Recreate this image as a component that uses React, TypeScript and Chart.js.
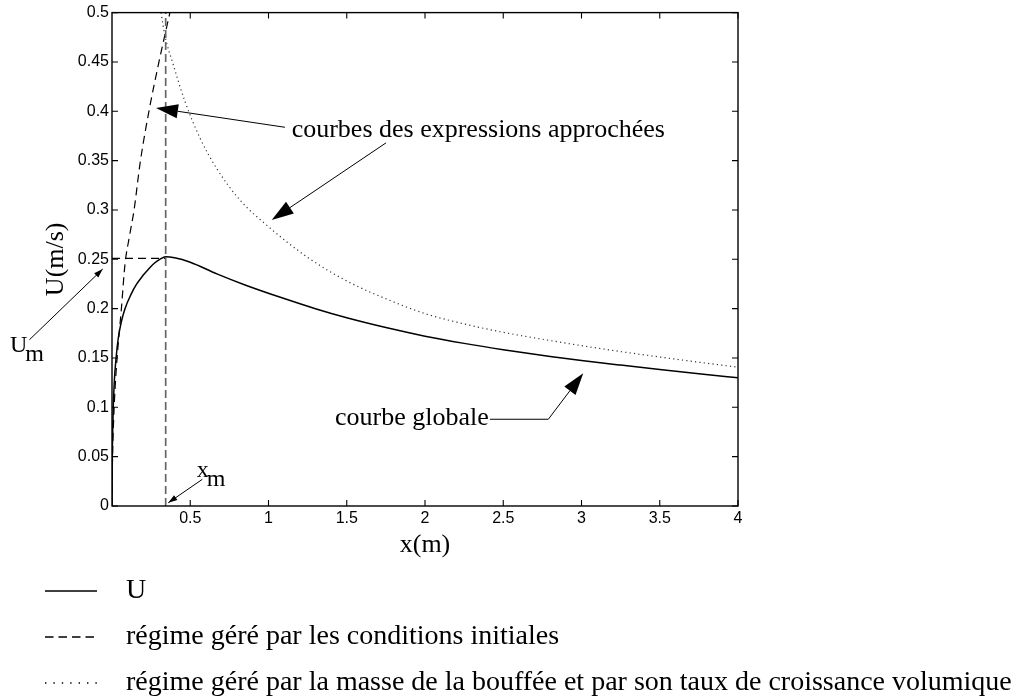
import React, { useEffect, useRef } from "react";
import { Chart, registerables } from "chart.js";

Chart.register(...registerables);

// ---- data ----
// global curve U(x)
const U_X = [0, 0.002, 0.005, 0.008, 0.015, 0.026, 0.04, 0.06, 0.083, 0.12, 0.158, 0.2, 0.23, 0.27, 0.31, 0.343, 0.4, 0.5, 0.67, 0.85, 1.1, 1.3, 1.5, 1.75, 2.0, 2.25, 2.5, 2.8, 3.0, 3.25, 3.5, 3.75, 4.0];
const U_Y = [0, 0.05, 0.08, 0.1, 0.127, 0.15, 0.17, 0.187, 0.2, 0.214, 0.225, 0.234, 0.2395, 0.246, 0.2505, 0.2525, 0.2515, 0.247, 0.2352, 0.224, 0.2102, 0.1999, 0.1907, 0.1808, 0.1721, 0.1648, 0.1584, 0.1516, 0.1475, 0.1428, 0.1383, 0.134, 0.13];

// regime driven by initial conditions (dashed)
const INIT_X = [0, 0.003, 0.01, 0.02, 0.035, 0.06, 0.083, 0.11, 0.141, 0.18, 0.236, 0.3, 0.37];
const INIT_Y = [0, 0.045, 0.085, 0.12, 0.155, 0.2, 0.245, 0.272, 0.3, 0.348, 0.4, 0.45, 0.5];

// regime driven by puff mass and volumetric growth (dotted)
const MASS_X = [0.313, 0.339, 0.392, 0.466, 0.562, 0.669, 0.818, 1.0, 1.25, 1.5, 1.75, 2.0, 2.25, 2.5, 2.75, 3.0, 3.25, 3.5, 3.75, 4.0];
const MASS_Y = [0.5, 0.476, 0.447, 0.41, 0.373, 0.342, 0.31, 0.283, 0.252, 0.228, 0.21, 0.195, 0.1845, 0.176, 0.169, 0.1625, 0.1565, 0.151, 0.1457, 0.1407];

// maximum location
const X_M = 0.343;
const U_M = 0.251;

// axis ticks
const X_TICKS = [0.5, 1, 1.5, 2, 2.5, 3, 3.5, 4];
const Y_TICKS = [0, 0.05, 0.1, 0.15, 0.2, 0.25, 0.3, 0.35, 0.4, 0.45, 0.5];

const LEGEND_LABELS = [
  "U",
  "régime géré par les conditions initiales",
  "régime géré par la masse de la bouffée et par son taux de croissance volumique",
];

// annotations (data coordinates)
const NOTE_TEXTS = [
  { text: "courbes des expressions approchées", x: 1.148, y: 0.3737 },
  { text: "courbe globale", x: 1.425, y: 0.0818 },
];
const NOTE_ARROWS = [
  { pts: [[1.105, 0.3838], [0.281, 0.4033]], big: true },
  { pts: [[1.751, 0.368], [1.0204, 0.2899]], big: true },
  { pts: [[2.415, 0.0879], [2.788, 0.0879], [3.011, 0.1346]], big: true },
  { pts: [[-0.528, 0.1684], [-0.0594, 0.2401]], big: false },
  { pts: [[0.577, 0.027], [0.3597, 0.0033]], big: false },
];
const NOTE_SUBS = [
  { main: "U", sub: "m", x: -0.652, y: 0.1559 },
  { main: "x", sub: "m", x: 0.541, y: 0.0296 },
];

const SERIF = "'Liberation Serif', 'Times New Roman', serif";
const SANS = "'Liberation Sans', Arial, sans-serif";

const decorPlugin = {
  id: "decor",
  afterDraw(chart: any) {
    const { ctx, chartArea: a, scales } = chart;
    const xs = scales.x;
    const ys = scales.y;
    const px = (v: number) => xs.getPixelForValue(v);
    const py = (v: number) => ys.getPixelForValue(v);
    ctx.save();

    // axes box
    ctx.strokeStyle = "#000";
    ctx.lineWidth = 1.4;
    ctx.setLineDash([]);
    ctx.strokeRect(a.left, a.top, a.right - a.left, a.bottom - a.top);

    // inward ticks on all sides
    ctx.lineWidth = 1.1;
    ctx.beginPath();
    for (const t of X_TICKS) {
      const x = px(t);
      ctx.moveTo(x, a.bottom);
      ctx.lineTo(x, a.bottom - 6);
      ctx.moveTo(x, a.top);
      ctx.lineTo(x, a.top + 6);
    }
    for (const t of Y_TICKS) {
      const y = py(t);
      ctx.moveTo(a.left, y);
      ctx.lineTo(a.left + 6, y);
      ctx.moveTo(a.right, y);
      ctx.lineTo(a.right - 6, y);
    }
    ctx.stroke();

    // arrows
    ctx.fillStyle = "#000";
    ctx.strokeStyle = "#000";
    ctx.lineWidth = 1;
    for (const arr of NOTE_ARROWS) {
      const p = arr.pts.map(([x, y]) => [px(x), py(y)]);
      const n = p.length;
      const [tx, ty] = p[n - 1];
      const [sx, sy] = p[n - 2];
      const ang = Math.atan2(ty - sy, tx - sx);
      const L = arr.big ? 22 : 9;
      const W = arr.big ? 7 : 3;
      const bx = tx - Math.cos(ang) * L;
      const by = ty - Math.sin(ang) * L;
      ctx.beginPath();
      ctx.moveTo(p[0][0], p[0][1]);
      for (let i = 1; i < n - 1; i++) ctx.lineTo(p[i][0], p[i][1]);
      ctx.lineTo(arr.big ? bx : tx, arr.big ? by : ty);
      ctx.stroke();
      const nx = -Math.sin(ang) * W;
      const ny = Math.cos(ang) * W;
      ctx.beginPath();
      ctx.moveTo(tx, ty);
      ctx.lineTo(bx + nx, by + ny);
      ctx.lineTo(bx - nx, by - ny);
      ctx.closePath();
      ctx.fill();
    }

    // annotation texts
    ctx.textBaseline = "alphabetic";
    ctx.textAlign = "left";
    ctx.font = `26px ${SERIF}`;
    for (const t of NOTE_TEXTS) ctx.fillText(t.text, px(t.x), py(t.y));
    ctx.font = `24px ${SERIF}`;
    for (const t of NOTE_SUBS) {
      const x = px(t.x);
      const y = py(t.y);
      ctx.fillText(t.main, x, y);
      const w = ctx.measureText(t.main).width;
      ctx.fillText(t.sub, x + w - 2, y + 9);
    }

    // legend below the axes
    const lx0 = 45;
    const lx1 = 97;
    const tx = 126;
    const rowY = [a.bottom + 85, a.bottom + 131, a.bottom + 177];
    const styles = [
      { dash: [] as number[], width: 1.6, color: "#000" },
      { dash: [8.5, 5], width: 1.4, color: "#000" },
      { dash: [1.4, 7], width: 1.5, color: "#000" },
    ];
    ctx.font = `28px ${SERIF}`;
    ctx.textBaseline = "middle";
    LEGEND_LABELS.forEach((lab, i) => {
      const s = styles[i];
      ctx.strokeStyle = s.color;
      ctx.lineWidth = s.width;
      ctx.setLineDash(s.dash);
      ctx.beginPath();
      ctx.moveTo(lx0, rowY[i]);
      ctx.lineTo(lx1, rowY[i]);
      ctx.stroke();
      ctx.setLineDash([]);
      ctx.fillStyle = "#000";
      ctx.fillText(lab, tx, rowY[i]);
    });
    ctx.restore();
  },
};

const pts = (xs: number[], ys: number[]) => xs.map((x, i) => ({ x, y: ys[i] }));

export default function App() {
  const ref = useRef<HTMLCanvasElement | null>(null);

  useEffect(() => {
    if (!ref.current) return;
    const chart = new Chart(ref.current, {
      type: "line",
      data: {
        datasets: [
          {
            label: "xm",
            data: [{ x: X_M, y: 0 }, { x: X_M, y: 0.5 }],
            borderColor: "#666",
            borderWidth: 1.7,
            borderDash: [8, 4],
            pointRadius: 0,
          },
          {
            label: "Um",
            data: [{ x: 0, y: U_M }, { x: X_M, y: U_M }],
            borderColor: "#000",
            borderWidth: 1.2,
            borderDash: [8, 5],
            pointRadius: 0,
          },
          {
            label: LEGEND_LABELS[2],
            data: pts(MASS_X, MASS_Y),
            borderColor: "#333",
            borderWidth: 1.2,
            borderDash: [1.2, 3.2],
            pointRadius: 0,
            cubicInterpolationMode: "monotone",
          },
          {
            label: LEGEND_LABELS[1],
            data: pts(INIT_X, INIT_Y),
            borderColor: "#000",
            borderWidth: 1.2,
            borderDash: [8, 5],
            pointRadius: 0,
            cubicInterpolationMode: "monotone",
          },
          {
            label: LEGEND_LABELS[0],
            data: pts(U_X, U_Y),
            borderColor: "#000",
            borderWidth: 1.5,
            pointRadius: 0,
            cubicInterpolationMode: "monotone",
          },
        ],
      },
      options: {
        animation: false,
        responsive: false,
        devicePixelRatio: 1,
        layout: { padding: { left: 0, right: 280, top: 11, bottom: 134 } },
        plugins: { legend: { display: false }, tooltip: { enabled: false } },
        scales: {
          x: {
            type: "linear",
            min: 0,
            max: 4,
            grid: { display: false, drawTicks: false, tickLength: 0 },
            border: { display: false },
            afterBuildTicks: (s: any) => {
              s.ticks = X_TICKS.map((v) => ({ value: v }));
            },
            afterFit: (s: any) => {
              s.height = 60;
            },
            ticks: {
              font: { family: SANS, size: 16 },
              color: "#000",
              padding: 3,
              maxRotation: 0,
              autoSkip: false,
              callback: (v: any) => String(v),
            },
            title: {
              display: true,
              text: "x(m)",
              color: "#000",
              font: { family: SERIF, size: 26 },
              padding: { top: 0, bottom: 5 },
            },
          },
          y: {
            type: "linear",
            min: 0,
            max: 0.5,
            grid: { display: false, drawTicks: false, tickLength: 0 },
            border: { display: false },
            afterBuildTicks: (s: any) => {
              s.ticks = Y_TICKS.map((v) => ({ value: v }));
            },
            afterFit: (s: any) => {
              s.width = 112;
            },
            ticks: {
              font: { family: SANS, size: 16 },
              color: "#000",
              padding: 3,
              autoSkip: false,
              callback: (v: any) => String(v),
            },
            title: {
              display: true,
              text: "U(m/s)",
              color: "#000",
              font: { family: SERIF, size: 26 },
              padding: { top: 41, bottom: 0 },
            },
          },
        },
      },
      plugins: [decorPlugin],
    } as any);
    return () => chart.destroy();
  }, []);

  return (
    <div style={{ position: "absolute", left: 0, top: 0, width: 1018, height: 700, background: "#fff" }}>
      <canvas ref={ref} width={1018} height={700} style={{ display: "block", width: 1018, height: 700 }} />
    </div>
  );
}
